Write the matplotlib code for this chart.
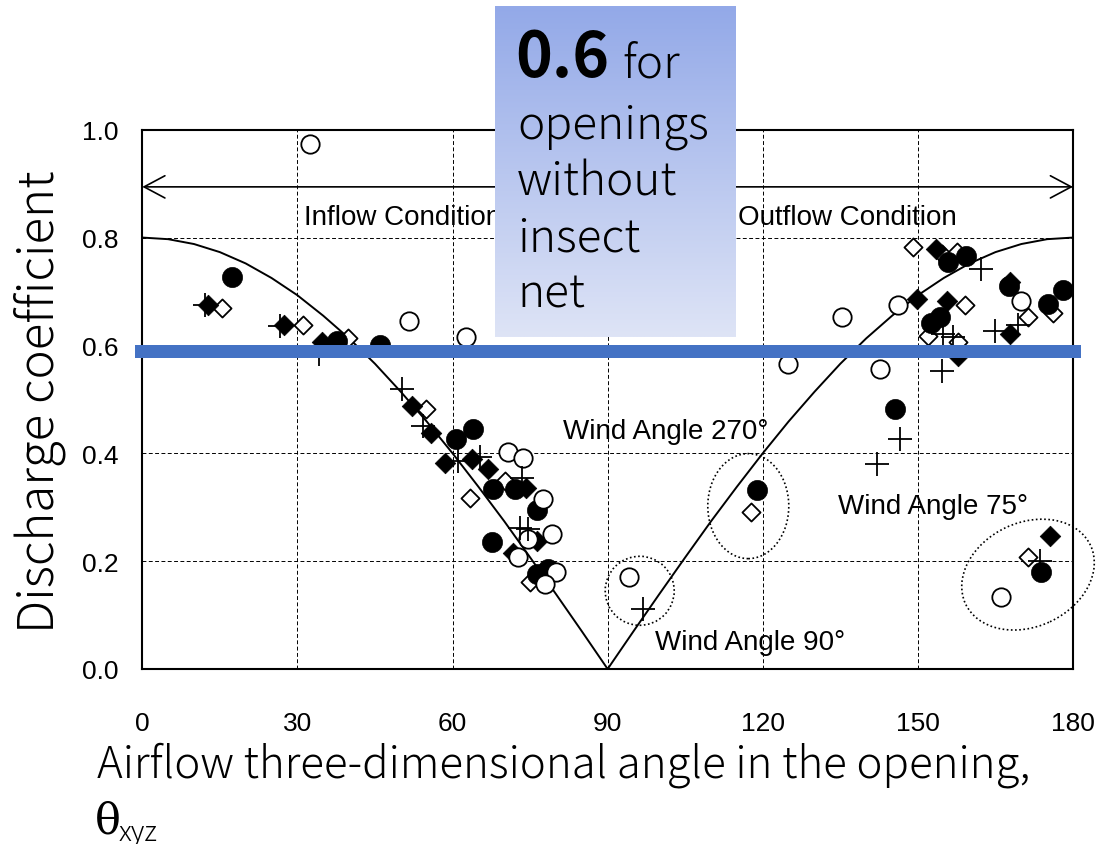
import numpy as np
import matplotlib
matplotlib.use("Agg")
import matplotlib.pyplot as plt
from matplotlib.patches import Ellipse, Rectangle
from matplotlib.transforms import ScaledTranslation

# ---- data -------------------------------------------------------------
filled_circle_x = [17.4, 37.6, 46.0, 60.7, 64.0, 67.9, 72.1, 76.3, 67.6, 76.3, 78.5,
                   118.9, 145.6, 152.5, 154.3, 155.9, 159.4, 167.7, 175.2, 178.0, 173.8]
filled_circle_y = [0.726, 0.609, 0.601, 0.426, 0.445, 0.334, 0.334, 0.294, 0.235, 0.176, 0.185,
                   0.332, 0.482, 0.642, 0.652, 0.755, 0.766, 0.711, 0.677, 0.703, 0.180]

open_circle_x = [32.5, 51.5, 62.7, 70.8, 73.6, 77.5, 79.2, 74.6, 72.7, 80.1, 77.9,
                 94.2, 124.9, 135.4, 142.6, 146.2, 169.9, 166.1]
open_circle_y = [0.973, 0.646, 0.615, 0.402, 0.391, 0.315, 0.250, 0.241, 0.207, 0.179, 0.158,
                 0.170, 0.566, 0.652, 0.556, 0.675, 0.683, 0.134]

filled_diamond_x = [12.8, 27.4, 34.7, 52.2, 55.8, 58.5, 63.7, 66.9, 74.3, 76.3, 71.7,
                    149.8, 153.6, 155.6, 157.8, 167.8, 167.9, 175.5]
filled_diamond_y = [0.675, 0.638, 0.606, 0.488, 0.438, 0.382, 0.389, 0.371, 0.335, 0.238, 0.216,
                    0.686, 0.779, 0.683, 0.581, 0.621, 0.718, 0.247]

open_diamond_x = [15.4, 31.0, 39.8, 54.9, 63.4, 70.1, 75.0, 117.7, 149.0, 154.6, 157.5,
                  159.1, 152.0, 157.8, 171.3, 176.2, 171.3]
open_diamond_y = [0.669, 0.638, 0.613, 0.482, 0.318, 0.349, 0.162, 0.291, 0.782, 0.770, 0.773,
                  0.675, 0.618, 0.606, 0.653, 0.660, 0.207]

plus_x = [12.1, 26.6, 34.2, 50.2, 54.3, 61.1, 65.3, 73.4, 73.0, 74.6, 96.9,
          142.0, 146.6, 154.6, 154.9, 156.8, 162.3, 164.9, 169.4, 173.6]
plus_y = [0.675, 0.636, 0.584, 0.519, 0.451, 0.386, 0.393, 0.355, 0.261, 0.260, 0.111,
          0.380, 0.426, 0.553, 0.621, 0.615, 0.742, 0.627, 0.638, 0.201]

# model curve, sampled every 5 degrees
curve_angle = list(range(0, 181, 5))
curve_cd = [0.800, 0.797, 0.788, 0.773, 0.752, 0.725, 0.693, 0.655, 0.613, 0.566,
            0.514, 0.459, 0.400, 0.338, 0.274, 0.207, 0.139, 0.070, 0.000,
            0.070, 0.139, 0.207, 0.274, 0.338, 0.400, 0.459, 0.514, 0.566, 0.613,
            0.655, 0.693, 0.725, 0.752, 0.773, 0.788, 0.797, 0.800]

x_ticks = [0, 30, 60, 90, 120, 150, 180]
y_ticks = [0.0, 0.2, 0.4, 0.6, 0.8, 1.0]
y_tick_labels = ["0.0", "0.2", "0.4", "0.6", "0.8", "1.0"]

reference_cd = 0.6

# ---- figure -------------------------------------------------------------
W, H = 1108, 845
fig = plt.figure(figsize=(W / 100, H / 100), dpi=100)
ax = fig.add_axes([142.3 / W, 175 / H, (1073 - 142.3) / W, (670 - 130.7) / H])

ax.set_xlim(0, 180)
ax.set_ylim(0, 1.0)
ax.set_xticks(x_ticks)
ax.set_yticks(y_ticks)
ax.set_yticklabels(y_tick_labels)
ax.tick_params(length=0, labelsize=19)
ax.tick_params(axis="x", pad=30)
ax.tick_params(axis="y", pad=17)
for lab in ax.get_xticklabels() + ax.get_yticklabels():
    lab.set_fontfamily("Liberation Sans")
for sp in ax.spines.values():
    sp.set_linewidth(1.5)
    sp.set_zorder(6)

ax.grid(True, linestyle=(0, (4, 2.5)), color="black", linewidth=0.7)
ax.set_axisbelow(True)

# model curve
ax.plot(curve_angle, curve_cd, color="black", linewidth=1.4, zorder=2)

# measured discharge coefficients
ax.scatter(open_diamond_x, open_diamond_y, marker="D", s=85, facecolor="white",
           edgecolor="black", linewidth=1.3, zorder=3)
ax.scatter(filled_diamond_x, filled_diamond_y, marker="D", s=110, facecolor="black",
           edgecolor="black", linewidth=0.5, zorder=3)
ax.scatter(filled_circle_x, filled_circle_y, marker="o", s=210, facecolor="black",
           edgecolor="black", linewidth=0.5, zorder=3)
ax.scatter(open_circle_x, open_circle_y, marker="o", s=175, facecolor="white",
           edgecolor="black", linewidth=1.3, zorder=3)
ax.scatter(plus_x, plus_y, marker="+", s=300, color="black", linewidth=1.3, zorder=4)

# inflow / outflow range arrow
ax.annotate("", xy=(0, 0.894), xytext=(180, 0.894),
            arrowprops=dict(arrowstyle="<->, head_length=0.75, head_width=0.4",
                            mutation_scale=20, color="black", linewidth=1.2,
                            shrinkA=0, shrinkB=0), zorder=3)

txt_kw = dict(fontsize=20, family="Liberation Sans", va="center", ha="left", zorder=4)
ax.text(31.3, 0.838, "Inflow Condition", **txt_kw)
ax.text(115.2, 0.838, "Outflow Condition", **txt_kw)
ax.text(81.3, 0.441, "Wind Angle 270°", **txt_kw)
ax.text(99.1, 0.050, "Wind Angle 90°", **txt_kw)
ax.text(134.5, 0.302, "Wind Angle 75°", **txt_kw)

# dotted ellipses around wind-angle groups (sizes in inches)
def ring(cx, cy, w, h, angle):
    e = Ellipse((0, 0), w, h, angle=angle, fill=False, linestyle=(0, (1, 1.5)),
                linewidth=1.2, edgecolor="black",
                transform=fig.dpi_scale_trans + ScaledTranslation(cx, cy, ax.transData),
                zorder=3, clip_on=False)
    ax.add_artist(e)

ring(96.2, 0.145, 0.69, 0.69, 0)
ring(117.2, 0.302, 0.81, 1.05, 0)
ring(171.3, 0.175, 1.38, 1.04, 25)

# reference discharge coefficient bar (top edge at 0.6)
ax.add_patch(Rectangle((-1.5, reference_cd - 0.024), 183, 0.024, facecolor="#4472C4",
                       edgecolor="none", clip_on=False, zorder=7))

# axis titles
cjk = ["Noto Sans CJK JP", "DejaVu Sans"]
fig.text(40 / W, 1 - 402 / H, "Discharge coefficient", rotation=90, fontsize=35.5,
         family=cjk, fontweight="light", ha="center", va="center")
fig.text(97 / W, 1 - 777 / H, "Airflow three-dimensional angle in the opening,",
         fontsize=31.5, family=cjk, fontweight="light", ha="left", va="baseline")
fig.text(95 / W, 1 - 834 / H, "θ", fontsize=31, family="DejaVu Serif",
         ha="left", va="baseline")
fig.text(119 / W, 1 - 841 / H, "xyz", fontsize=20, family=cjk, fontweight="light",
         ha="left", va="baseline")

# callout box with gradient fill
bx0, by0, bx1, by1 = 495, 7, 736, 338
box = fig.add_axes([bx0 / W, 1 - by1 / H, (bx1 - bx0) / W, (by1 - by0) / H], zorder=8)
top_c = np.array([0x93, 0xA9, 0xE8]) / 255
bot_c = np.array([0xDE, 0xE4, 0xF6]) / 255
t = np.linspace(0, 1, 256)[:, None]
grad = (top_c[None, :] * (1 - t) + bot_c[None, :] * t)[:, None, :]
box.imshow(grad, aspect="auto", extent=[0, 1, 0, 1], interpolation="bilinear")
box.set_axis_off()

fig.text(515 / W, 1 - 77 / H, "0.6", fontsize=45, fontweight="bold", family=cjk,
         ha="left", va="baseline", zorder=9)
fig.text(622 / W, 1 - 77 / H, "for", fontsize=33, family=cjk, fontweight="light",
         ha="left", va="baseline", zorder=9)
for line, base in zip(["openings", "without", "insect", "net"], [138, 195, 252, 308]):
    fig.text(517 / W, 1 - base / H, line, fontsize=33, family=cjk, fontweight="light",
             ha="left", va="baseline", zorder=9)

fig.savefig("out.png", dpi=100)
